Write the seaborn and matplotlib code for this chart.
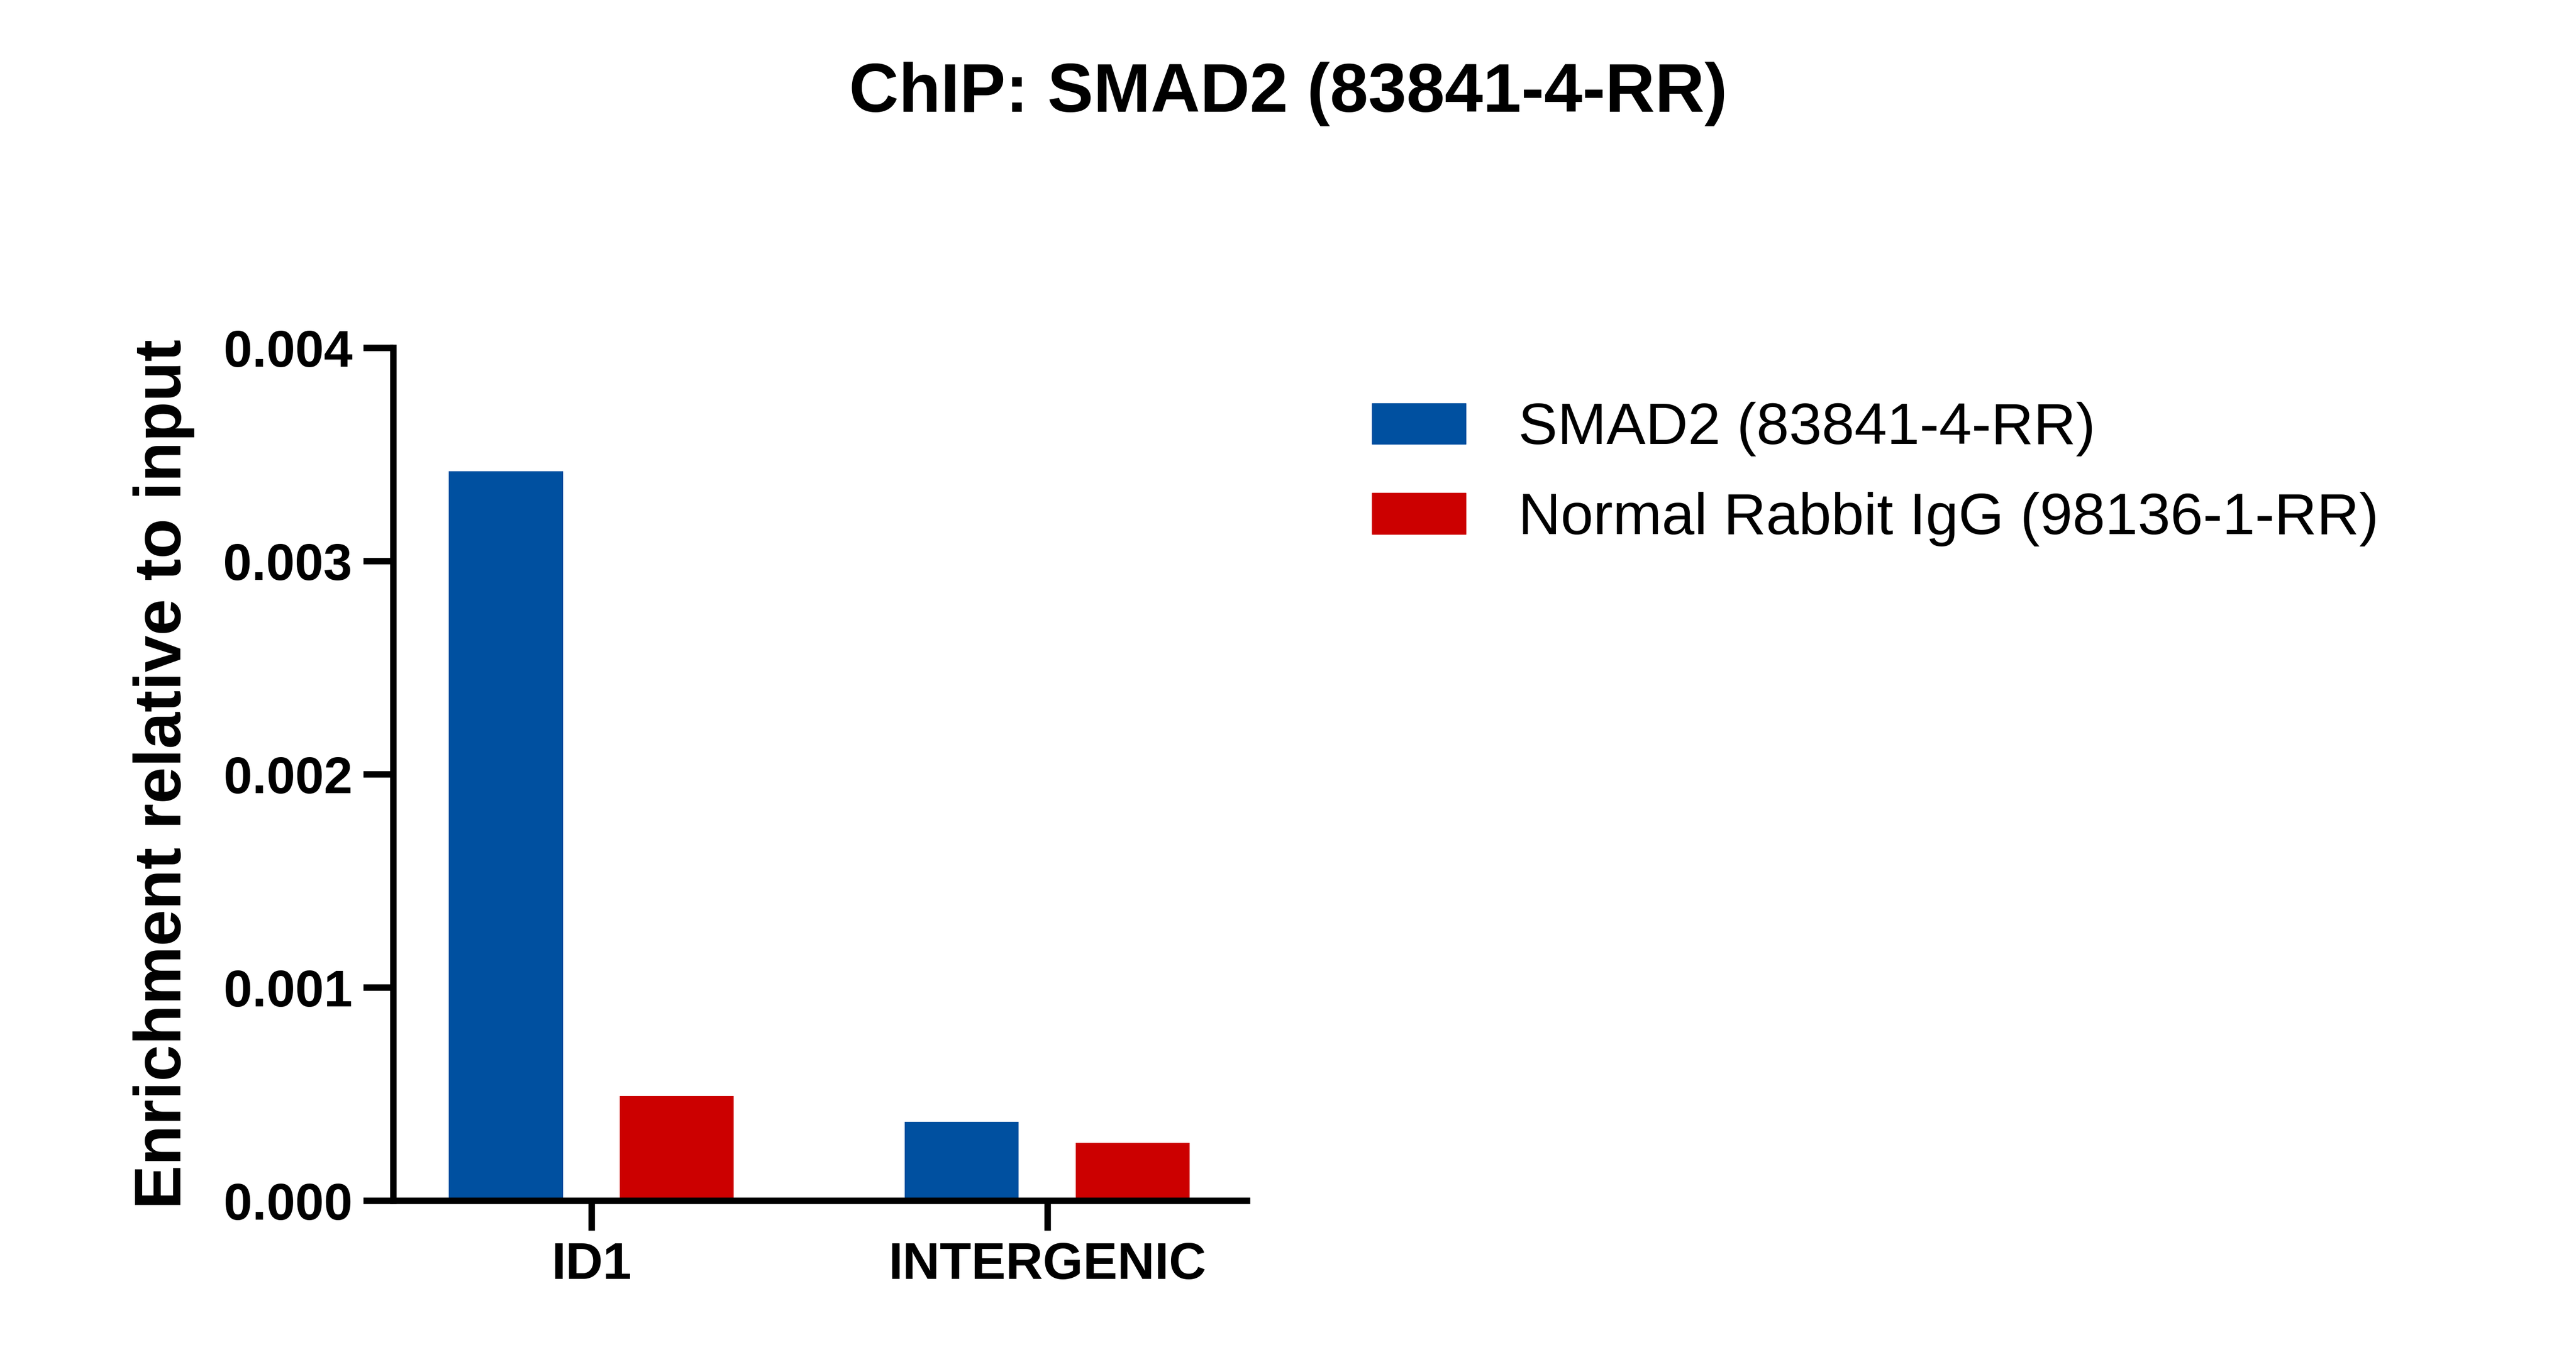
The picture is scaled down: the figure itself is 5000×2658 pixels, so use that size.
import matplotlib
matplotlib.use("Agg")
import matplotlib.pyplot as plt
import seaborn as sns
import pandas as pd
from matplotlib.patches import Patch

categories = ["ID1", "INTERGENIC"]
series = ["SMAD2 (83841-4-RR)", "Normal Rabbit IgG (98136-1-RR)"]
smad2 = [0.00342, 0.00037]
igg = [0.00049, 0.00027]
yticks = [0.000, 0.001, 0.002, 0.003, 0.004]
colors = ["#0050A0", "#CC0000"]

df = pd.DataFrame({
    "Target": categories * 2,
    "Antibody": [series[0]] * 2 + [series[1]] * 2,
    "Value": smad2 + igg,
})

plt.rcParams["font.family"] = "Liberation Sans"
fig = plt.figure(figsize=(50, 26.58), dpi=100)
ax = fig.add_axes([0.1526, 0.123, 0.3314, 0.623])
sns.barplot(data=df, x="Target", y="Value", hue="Antibody", palette=colors,
            width=0.75, gap=1/3, ax=ax, legend=False, saturation=1)
ax.set_xlim(-0.435, 1.438)
ax.set_ylim(0, 0.004)
ax.set_yticks(yticks)
ax.set_yticklabels([f"{v:.3f}" for v in yticks], fontsize=72, fontweight="bold")
ax.set_xticks([0, 1])
ax.set_xticklabels(categories, fontsize=72, fontweight="bold")
ax.set_xlabel("")
ax.set_ylabel("Enrichment relative to input", fontsize=92, fontweight="bold", labelpad=40)
for s in ["top", "right"]:
    ax.spines[s].set_visible(False)
for s in ["left", "bottom"]:
    ax.spines[s].set_linewidth(9)
ax.tick_params(width=9, length=42, pad=15)
fig.suptitle("ChIP: SMAD2 (83841-4-RR)", fontsize=96, fontweight="bold", y=0.955)
handles = [Patch(color=c, label=l) for c, l in zip(colors, series)]
fig.legend(handles=handles, loc="upper left", bbox_to_anchor=(0.512, 0.745),
           frameon=False, fontsize=82, handlelength=1.6, handleheight=0.7,
           handletextpad=0.9, labelspacing=0.6)
fig.savefig("out.png", dpi=100)
